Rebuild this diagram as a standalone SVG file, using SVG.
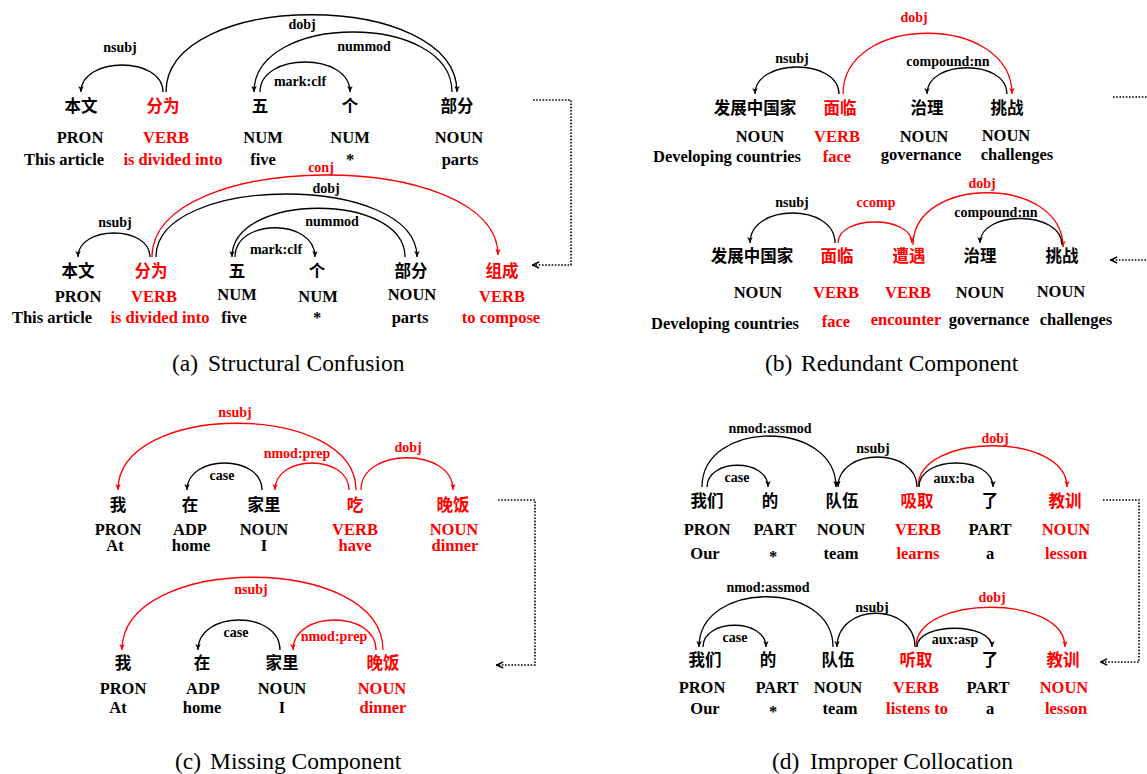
<svg xmlns="http://www.w3.org/2000/svg" width="1147" height="774" viewBox="0 0 1147 774">
<style>
.w{font-family:"Noto Sans CJK SC","Noto Sans CJK JP",sans-serif;font-weight:700;font-size:16.5px;text-anchor:middle;fill:#000}
.p{font-family:"Liberation Serif",serif;font-weight:700;font-size:16.5px;text-anchor:middle;fill:#000}
.l{font-family:"Liberation Serif",serif;font-weight:700;font-size:14px;text-anchor:middle;fill:#000}
.cap{font-family:"Liberation Serif",serif;font-size:23.5px;fill:#000}
.r{fill:#f00}
.a{fill:none;stroke:#000;stroke-width:1.3;marker-end:url(#mb)}
.ar{fill:none;stroke:#f00;stroke-width:1.3;marker-end:url(#mr)}
.dot{fill:none;stroke:#000;stroke-width:1.6;stroke-dasharray:1.6 1.6;marker-end:url(#md)}
</style>
<defs>
<marker id="mb" viewBox="0 0 10 10" refX="10" refY="5" markerWidth="7" markerHeight="6" markerUnits="userSpaceOnUse" orient="auto"><path d="M0,0.5 L10,5 L0,9.5 L2.5,5 Z" fill="#000"/></marker>
<marker id="mr" viewBox="0 0 10 10" refX="10" refY="5" markerWidth="7" markerHeight="6" markerUnits="userSpaceOnUse" orient="auto"><path d="M0,0.5 L10,5 L0,9.5 L2.5,5 Z" fill="#f00"/></marker>
<marker id="md" viewBox="0 0 10 10" refX="10" refY="5" markerWidth="8" markerHeight="8" markerUnits="userSpaceOnUse" orient="auto"><path d="M1,1 L9,5 L1,9" fill="none" stroke="#000" stroke-width="1.8"/></marker>
</defs>

<!-- (a) top -->
<g id="a1-benwen"><text class="w" x="81" y="112">本文</text><text class="p" x="80" y="143">PRON</text><text class="p" x="64" y="165">This article</text></g>
<g id="a1-fenwei"><text class="w r" x="163" y="112">分为</text><text class="p r" x="166" y="143">VERB</text><text class="p r" x="173" y="165">is divided into</text></g>
<g id="a1-wu"><text class="w" x="260" y="112">五</text><text class="p" x="263" y="143">NUM</text><text class="p" x="263" y="165">five</text></g>
<g id="a1-ge"><text class="w" x="350" y="112">个</text><text class="p" x="350" y="143">NUM</text><text class="p" x="350" y="165">*</text></g>
<g id="a1-bufen"><text class="w" x="457" y="112">部分</text><text class="p" x="459" y="143">NOUN</text><text class="p" x="460" y="165">parts</text></g>

<!-- (a) bottom -->
<g id="a2-benwen"><text class="w" x="78" y="277">本文</text><text class="p" x="78" y="302">PRON</text><text class="p" x="52" y="323">This article</text></g>
<g id="a2-fenwei"><text class="w r" x="151" y="277">分为</text><text class="p r" x="154" y="302">VERB</text><text class="p r" x="160" y="323">is divided into</text></g>
<g id="a2-wu"><text class="w" x="237" y="277">五</text><text class="p" x="237" y="300">NUM</text><text class="p" x="234" y="323">five</text></g>
<g id="a2-ge"><text class="w" x="317" y="277">个</text><text class="p" x="318" y="302">NUM</text><text class="p" x="317" y="323">*</text></g>
<g id="a2-bufen"><text class="w" x="411" y="277">部分</text><text class="p" x="412" y="300">NOUN</text><text class="p" x="410" y="323">parts</text></g>
<g id="a2-zucheng"><text class="w r" x="502" y="277">组成</text><text class="p r" x="502" y="302">VERB</text><text class="p r" x="501" y="323">to compose</text></g>

<!-- (b) top -->
<g id="b1-fazhan"><text class="w" x="755" y="114">发展中国家</text><text class="p" x="760" y="142">NOUN</text><text class="p" x="727" y="162">Developing countries</text></g>
<g id="b1-mianlin"><text class="w r" x="840" y="114">面临</text><text class="p r" x="837" y="142">VERB</text><text class="p r" x="837" y="162">face</text></g>
<g id="b1-zhili"><text class="w" x="927" y="114">治理</text><text class="p" x="924" y="142">NOUN</text><text class="p" x="921" y="160">governance</text></g>
<g id="b1-tiaozhan"><text class="w" x="1007" y="114">挑战</text><text class="p" x="1006" y="141">NOUN</text><text class="p" x="1017" y="160">challenges</text></g>

<!-- (b) bottom -->
<g id="b2-fazhan"><text class="w" x="752" y="262">发展中国家</text><text class="p" x="758" y="298">NOUN</text><text class="p" x="725" y="329">Developing countries</text></g>
<g id="b2-mianlin"><text class="w r" x="837" y="262">面临</text><text class="p r" x="836" y="298">VERB</text><text class="p r" x="836" y="327">face</text></g>
<g id="b2-zaoyu"><text class="w r" x="909" y="262">遭遇</text><text class="p r" x="908" y="298">VERB</text><text class="p r" x="906" y="325">encounter</text></g>
<g id="b2-zhili"><text class="w" x="980" y="262">治理</text><text class="p" x="980" y="298">NOUN</text><text class="p" x="989" y="325">governance</text></g>
<g id="b2-tiaozhan"><text class="w" x="1062" y="262">挑战</text><text class="p" x="1061" y="297">NOUN</text><text class="p" x="1076" y="325">challenges</text></g>

<!-- (c) top -->
<g id="c1-wo"><text class="w" x="118" y="511">我</text><text class="p" x="118" y="535">PRON</text><text class="p" x="115" y="551">At</text></g>
<g id="c1-zai"><text class="w" x="190" y="511">在</text><text class="p" x="190" y="535">ADP</text><text class="p" x="191" y="551">home</text></g>
<g id="c1-jiali"><text class="w" x="264" y="511">家里</text><text class="p" x="264" y="535">NOUN</text><text class="p" x="264" y="551">I</text></g>
<g id="c1-chi"><text class="w r" x="355" y="511">吃</text><text class="p r" x="355" y="535">VERB</text><text class="p r" x="355" y="551">have</text></g>
<g id="c1-wanfan"><text class="w r" x="453" y="511">晚饭</text><text class="p r" x="454" y="535">NOUN</text><text class="p r" x="455" y="551">dinner</text></g>

<!-- (c) bottom -->
<g id="c2-wo"><text class="w" x="123" y="669">我</text><text class="p" x="123" y="694">PRON</text><text class="p" x="118" y="713">At</text></g>
<g id="c2-zai"><text class="w" x="202" y="669">在</text><text class="p" x="203" y="694">ADP</text><text class="p" x="202" y="713">home</text></g>
<g id="c2-jiali"><text class="w" x="282" y="669">家里</text><text class="p" x="282" y="694">NOUN</text><text class="p" x="282" y="713">I</text></g>
<g id="c2-wanfan"><text class="w r" x="383" y="669">晚饭</text><text class="p r" x="382" y="694">NOUN</text><text class="p r" x="383" y="713">dinner</text></g>

<!-- (d) top -->
<g id="d1-women"><text class="w" x="707" y="507">我们</text><text class="p" x="707" y="535">PRON</text><text class="p" x="705" y="559">Our</text></g>
<g id="d1-de"><text class="w" x="770" y="507">的</text><text class="p" x="775" y="535">PART</text><text class="p" x="773" y="562">*</text></g>
<g id="d1-duiwu"><text class="w" x="842" y="507">队伍</text><text class="p" x="841" y="535">NOUN</text><text class="p" x="841" y="559">team</text></g>
<g id="d1-xiqu"><text class="w r" x="917" y="507">吸取</text><text class="p r" x="918" y="535">VERB</text><text class="p r" x="918" y="559">learns</text></g>
<g id="d1-le"><text class="w" x="990" y="507">了</text><text class="p" x="990" y="535">PART</text><text class="p" x="990" y="559">a</text></g>
<g id="d1-jiaoxun"><text class="w r" x="1065" y="507">教训</text><text class="p r" x="1066" y="535">NOUN</text><text class="p r" x="1066" y="559">lesson</text></g>

<!-- (d) bottom -->
<g id="d2-women"><text class="w" x="705" y="666">我们</text><text class="p" x="702" y="693">PRON</text><text class="p" x="705" y="714">Our</text></g>
<g id="d2-de"><text class="w" x="768" y="666">的</text><text class="p" x="777" y="693">PART</text><text class="p" x="773" y="717">*</text></g>
<g id="d2-duiwu"><text class="w" x="838" y="666">队伍</text><text class="p" x="838" y="693">NOUN</text><text class="p" x="840" y="714">team</text></g>
<g id="d2-tingqu"><text class="w r" x="916" y="666">听取</text><text class="p r" x="916" y="693">VERB</text><text class="p r" x="917" y="714">listens to</text></g>
<g id="d2-le"><text class="w" x="990" y="666">了</text><text class="p" x="988" y="693">PART</text><text class="p" x="990" y="714">a</text></g>
<g id="d2-jiaoxun"><text class="w r" x="1063" y="666">教训</text><text class="p r" x="1064" y="693">NOUN</text><text class="p r" x="1066" y="714">lesson</text></g>

<g id="connectors">
<!-- (a) top -->
<path class="a" d="M163,92 C163,56 81,56 81,92"/>
<path class="a" d="M166,92 C166,-11 457,-11 457,92"/>
<path class="a" d="M452,92 C452,12 254,12 254,92"/>
<path class="a" d="M260,92 C260,52 350,52 350,92"/>
<text class="l" x="120" y="52">nsubj</text>
<text class="l" x="302" y="29">dobj</text>
<text class="l" x="364" y="51">nummod</text>
<text class="l" x="300" y="86">mark:clf</text>
<!-- (a) bottom -->
<path class="a" d="M150,257 C150,225 78,225 78,257"/>
<path class="ar" d="M152,257 C152,148 498,148 498,255"/>
<path class="a" d="M156,257 C156,173 417,173 417,257"/>
<path class="a" d="M405,257 C405,192 232,192 232,257"/>
<path class="a" d="M235,257 C235,218 315,218 315,257"/>
<text class="l" x="115" y="227">nsubj</text>
<text class="l r" x="321" y="172">conj</text>
<text class="l" x="326" y="193">dobj</text>
<text class="l" x="332" y="226">nummod</text>
<text class="l" x="276" y="254">mark:clf</text>
<!-- (b) top -->
<path class="a" d="M839,94 C839,58 755,58 755,94"/>
<path class="ar" d="M843,94 C843,13 1012,13 1012,94"/>
<path class="a" d="M1007,94 C1007,59 927,59 927,94"/>
<text class="l" x="792" y="63">nsubj</text>
<text class="l r" x="914" y="22">dobj</text>
<text class="l" x="948" y="66">compound:nn</text>
<!-- (b) bottom -->
<path class="a" d="M835,243 C835,203 750,203 750,243"/>
<path class="ar" d="M838,243 C838,215 912,215 912,243"/>
<path class="ar" d="M913,245 C913,175 1063,175 1063,247"/>
<path class="a" d="M1062,245 C1062,210 980,210 980,243"/>
<text class="l" x="792" y="207">nsubj</text>
<text class="l r" x="876" y="207">ccomp</text>
<text class="l r" x="982" y="188">dobj</text>
<text class="l" x="996" y="217">compound:nn</text>
<!-- (c) top -->
<path class="ar" d="M356,490 C356,401 118,401 118,490"/>
<path class="a" d="M262,490 C262,454 187,454 187,490"/>
<path class="ar" d="M349,490 C349,454 275,454 275,490"/>
<path class="ar" d="M361,490 C361,447 453,447 453,490"/>
<text class="l r" x="235" y="417">nsubj</text>
<text class="l" x="222" y="480">case</text>
<text class="l r" x="297" y="458">nmod:prep</text>
<text class="l r" x="408" y="452">dobj</text>
<!-- (c) bottom -->
<path class="ar" d="M383,650 C383,553 122,553 122,650"/>
<path class="a" d="M280,650 C280,610 198,610 198,650"/>
<path class="ar" d="M376,650 C376,610 293,610 293,650"/>
<text class="l r" x="251" y="594">nsubj</text>
<text class="l" x="236" y="637">case</text>
<text class="l r" x="334" y="641">nmod:prep</text>
<!-- (d) top -->
<path class="a" d="M702,487 C702,419 836,419 836,487"/>
<path class="a" d="M707,487 C707,458 768,458 768,487"/>
<path class="a" d="M917,487 C917,447 838,447 838,487"/>
<path class="ar" d="M918,487 C918,432 1067,432 1067,487"/>
<path class="a" d="M919,487 C919,455 993,455 993,487"/>
<text class="l" x="770" y="433">nmod:assmod</text>
<text class="l" x="737" y="482">case</text>
<text class="l" x="873" y="453">nsubj</text>
<text class="l r" x="995" y="443">dobj</text>
<text class="l" x="954" y="483">aux:ba</text>
<!-- (d) bottom -->
<path class="a" d="M833,647 C833,580 699,580 699,647"/>
<path class="a" d="M703,647 C703,618 766,618 766,647"/>
<path class="a" d="M915,647 C915,602 837,602 837,647"/>
<path class="ar" d="M916,647 C916,594 1065,594 1065,647"/>
<path class="a" d="M917,647 C917,622 992,622 992,647"/>
<text class="l" x="768" y="592">nmod:assmod</text>
<text class="l" x="735" y="642">case</text>
<text class="l" x="872" y="612">nsubj</text>
<text class="l r" x="992" y="602">dobj</text>
<text class="l" x="955" y="644">aux:asp</text>
<!-- dotted transitions -->
<path class="dot" d="M533,100 H571 V265 H532"/>
<path class="dot" d="M1113,97 H1160 V260 H1110"/>
<path class="dot" d="M498,500 H535 V665 H496"/>
<path class="dot" d="M1103,500 H1139 V662 H1100"/>
</g>

<g id="captions">
<text class="cap" x="172" y="371">(a)</text><text class="cap" x="208" y="371">Structural Confusion</text>
<text class="cap" x="765" y="371">(b)</text><text class="cap" x="801" y="371">Redundant Component</text>
<text class="cap" x="175" y="769">(c)</text><text class="cap" x="210" y="769">Missing Component</text>
<text class="cap" x="772" y="769">(d)</text><text class="cap" x="810" y="769">Improper Collocation</text>
</g>
</svg>
